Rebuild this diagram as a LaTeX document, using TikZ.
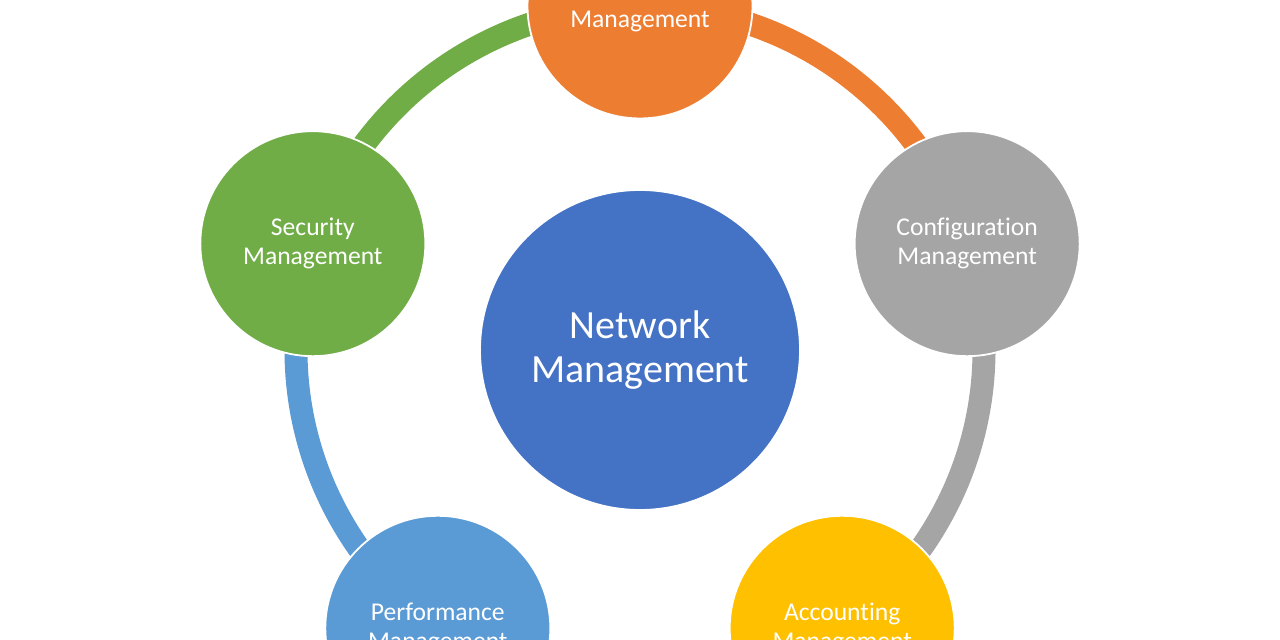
\documentclass[tikz,border=0pt]{standalone}
\usepackage{fontspec}
\setmainfont{Carlito}[Ligatures=NoCommon]
\usetikzlibrary{positioning}
\definecolor{mgorange}{HTML}{ED7D31}
\definecolor{mggray}{HTML}{A5A5A5}
\definecolor{mgyellow}{HTML}{FFC000}
\definecolor{mgblue}{HTML}{5B9BD5}
\definecolor{mggreen}{HTML}{70AD47}
\definecolor{mgcore}{HTML}{4472C4}
\tikzset{
  area/.style={circle, fill=#1, draw=white, line width=0.9pt, minimum size=112.5pt,
    inner sep=0pt, text=white, align=center, font=\fontsize{12.8}{14.6}\selectfont},
  ring/.style={draw=#1, line width=11.5pt}
}

\begin{document}
\begin{tikzpicture}[x=0.5pt, y=0.5pt]
    \useasboundingbox (0, 0) rectangle (1280, 640);
    \coordinate (mid) at (640, 290);
    % outer areas on a ring
    \path (mid) ++(90:344)  coordinate (pfault);
    \path (mid) ++(18:344)  coordinate (pconf);
    \path (mid) ++(-54:344) coordinate (pacc);
    \path (mid) ++(234:344) coordinate (pperf);
    \path (mid) ++(162:344) coordinate (psec);
    % ring segments
    \draw[ring=mgorange] (pfault) arc[start angle=90,  end angle=18,  radius=344];
    \draw[ring=mggray]   (pconf)  arc[start angle=18,  end angle=-54, radius=344];
    \draw[ring=mgyellow] (pacc)   arc[start angle=-54, end angle=-126, radius=344];
    \draw[ring=mgblue]   (pperf)  arc[start angle=234, end angle=162, radius=344];
    \draw[ring=mggreen]  (psec)   arc[start angle=162, end angle=90,  radius=344];
    % nodes
    \node[area=mgorange] (fault) at (pfault) {Fault\\Management};
    \node[area=mggray]   (conf)  at (pconf)  {Configuration\\Management};
    \node[area=mgyellow] (acc)   at (pacc)   {Accounting\\Management};
    \node[area=mgblue]   (perf)  at (pperf)  {Performance\\Management};
    \node[area=mggreen]  (sec)   at (psec)   {Security\\Management};
    \node[area=mgcore, minimum size=160pt, font=\fontsize{20}{22}\selectfont] (core) at (mid) {Network\\Management};
\end{tikzpicture}
\end{document}
